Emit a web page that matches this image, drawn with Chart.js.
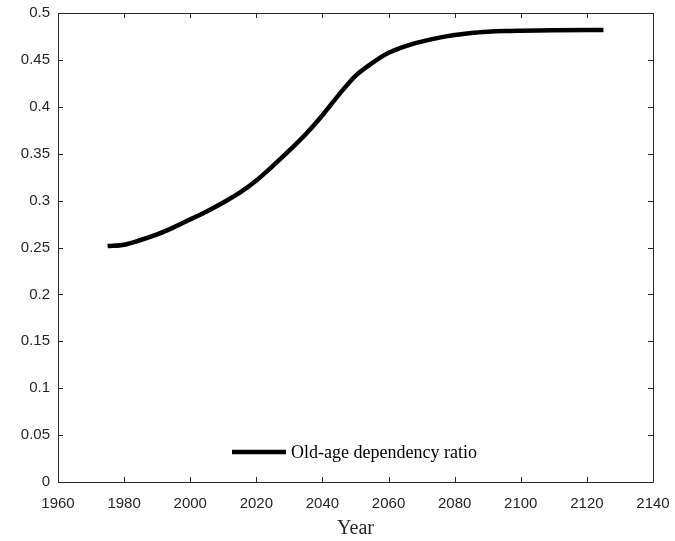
<!DOCTYPE html>
<html>
<head>
<meta charset="utf-8">
<script src="https://cdn.jsdelivr.net/npm/chart.js@4/dist/chart.umd.min.js"></script>
<style>
  html, body { margin: 0; padding: 0; background: #fff; }
  #wrap { width: 675px; height: 541px; position: relative; }
</style>
</head>
<body>
<div id="wrap"><canvas id="c" width="675" height="541"></canvas></div>
<script>
// Old-age dependency ratio projection
const years = [1975, 1980, 1985, 1990, 1995, 2000, 2005, 2010, 2015, 2020, 2025, 2030, 2035, 2040, 2045, 2050, 2055, 2060, 2065, 2070, 2075, 2080, 2085, 2090, 2095, 2100, 2110, 2125];
const ratio = [0.2515, 0.2530, 0.2580, 0.2640, 0.2715, 0.2800, 0.2885, 0.2980, 0.3085, 0.3215, 0.3370, 0.3535, 0.3710, 0.3910, 0.4130, 0.4330, 0.4465, 0.4575, 0.4645, 0.4695, 0.4735, 0.4765, 0.4787, 0.4800, 0.4808, 0.4812, 0.4817, 0.4819];
const xTicks = [1960, 1980, 2000, 2020, 2040, 2060, 2080, 2100, 2120, 2140];
const yTicks = [0, 0.05, 0.1, 0.15, 0.2, 0.25, 0.3, 0.35, 0.4, 0.45, 0.5];
const seriesName = 'Old-age dependency ratio';
const axisLabel = 'Year';

const axisColor = '#262626';
const sansFont = '"Liberation Sans", Arial, Helvetica, sans-serif';
const serifFont = '"Liberation Serif", "Times New Roman", serif';

// Box frame with inward tick marks on all four sides
const boxTicks = {
  id: 'boxTicks',
  afterDraw(chart) {
    const { ctx, chartArea: a, scales: { x, y } } = chart;
    const len = 5;
    ctx.save();
    ctx.strokeStyle = axisColor;
    ctx.lineWidth = 1;
    ctx.beginPath();
    ctx.rect(a.left + 0.5, a.top + 0.5, a.right - a.left, a.bottom - a.top);
    xTicks.forEach(v => {
      const px = Math.round(x.getPixelForValue(v)) + 0.5;
      ctx.moveTo(px, a.bottom); ctx.lineTo(px, a.bottom - len);
      ctx.moveTo(px, a.top); ctx.lineTo(px, a.top + len);
    });
    yTicks.forEach(v => {
      const py = Math.round(y.getPixelForValue(v)) + 0.5;
      ctx.moveTo(a.left, py); ctx.lineTo(a.left + len, py);
      ctx.moveTo(a.right, py); ctx.lineTo(a.right - len, py);
    });
    ctx.stroke();
    ctx.restore();
  }
};

// Legend drawn inside the plot, near the bottom centre
const innerLegend = {
  id: 'innerLegend',
  afterDraw(chart) {
    const { ctx, chartArea: a } = chart;
    const ds = chart.data.datasets[0];
    const ly = a.bottom - 30;
    const x0 = a.left + 174;
    ctx.save();
    ctx.strokeStyle = ds.borderColor;
    ctx.lineWidth = ds.borderWidth;
    ctx.beginPath();
    ctx.moveTo(x0, ly);
    ctx.lineTo(x0 + 54, ly);
    ctx.stroke();
    ctx.fillStyle = '#000';
    ctx.font = '18px ' + serifFont;
    ctx.textBaseline = 'middle';
    ctx.textAlign = 'left';
    ctx.fillText(ds.label, x0 + 59, ly + 1);
    ctx.restore();
  }
};

new Chart(document.getElementById('c'), {
  type: 'line',
  data: {
    labels: years,
    datasets: [{
      label: seriesName,
      data: years.map((yr, i) => ({ x: yr, y: ratio[i] })),
      borderColor: '#000',
      borderWidth: 4.5,
      pointRadius: 0,
      fill: false,
      cubicInterpolationMode: 'monotone',
      borderCapStyle: 'butt'
    }]
  },
  options: {
    responsive: false,
    animation: false,
    devicePixelRatio: 1,
    layout: { padding: { left: 0, top: 13, right: 22, bottom: 0 } },
    plugins: { legend: { display: false }, tooltip: { enabled: false } },
    scales: {
      x: {
        type: 'linear',
        min: 1960, max: 2140,
        afterBuildTicks(s) { s.ticks = xTicks.map(v => ({ value: v })); },
        afterFit(s) { s.height = 59; s.paddingLeft = 0; s.paddingRight = 0; },
        grid: { display: false, drawTicks: false },
        border: { display: false },
        ticks: { color: axisColor, font: { family: sansFont, size: 15 }, padding: 13, maxRotation: 0, autoSkip: false,
                 callback: v => String(v) },
        title: { display: true, text: axisLabel, color: axisColor, font: { family: serifFont, size: 20 }, padding: { top: 0, bottom: 0 } }
      },
      y: {
        min: 0, max: 0.5,
        afterBuildTicks(s) { s.ticks = yTicks.map(v => ({ value: v })); },
        afterFit(s) { s.width = 58; s.paddingTop = 0; s.paddingBottom = 0; },
        grid: { display: false, drawTicks: false },
        border: { display: false },
        ticks: { color: axisColor, font: { family: sansFont, size: 15 }, padding: 8, autoSkip: false,
                 callback: v => String(+v.toFixed(2)) }
      }
    }
  },
  plugins: [boxTicks, innerLegend]
});
</script>
</body>
</html>
